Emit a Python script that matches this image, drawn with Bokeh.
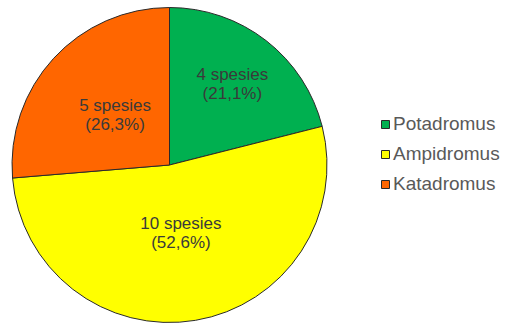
import math
from bokeh.plotting import figure
from bokeh.models import ColumnDataSource, Range1d, Legend, LegendItem
from bokeh.core.properties import value
from bokeh.embed import file_html
from bokeh.resources import INLINE

# Data
categories = ["Potadromus", "Ampidromus", "Katadromus"]
counts = [4, 10, 5]
percent_labels = ["(21,1%)", "(52,6%)", "(26,3%)"]
count_labels = ["4 spesies", "10 spesies", "5 spesies"]
colors = ["#00B050", "#FFFF00", "#FF6600"]

# Layout
W, H = 511, 323
cx, cy, R = 169, 323 - 164.5, 157.5
label_r_frac = [0.65, 0.44, 0.47]

total = sum(counts)
starts, ends, lx, ly1, ly2 = [], [], [], [], []
cum = 0
for c, rf in zip(counts, label_r_frac):
    a0 = math.pi / 2 - 2 * math.pi * cum / total
    cum += c
    a1 = math.pi / 2 - 2 * math.pi * cum / total
    starts.append(a0)
    ends.append(a1)
    mid = (a0 + a1) / 2
    x = cx + rf * R * math.cos(mid)
    y = cy + rf * R * math.sin(mid)
    lx.append(x)
    ly1.append(y + 9.5)
    ly2.append(y - 9.5)

src = ColumnDataSource(dict(cat=categories, start=starts, end=ends, color=colors,
                            lx=lx, ly1=ly1, ly2=ly2, t1=count_labels, t2=percent_labels))

p = figure(width=W, height=H, output_backend="svg", toolbar_location=None,
           x_range=Range1d(0, W), y_range=Range1d(0, H), min_border=0)
p.axis.visible = False
p.grid.visible = False
p.outline_line_color = None
p.background_fill_color = "white"
p.border_fill_color = "white"

r = p.wedge(x=cx, y=cy, radius=R, start_angle="start", end_angle="end",
            direction="clock", fill_color="color", line_color="#2a2a2a",
            line_width=1, source=src)

for col, ycol in (("t1", "ly1"), ("t2", "ly2")):
    p.text(x="lx", y=ycol, text=col, source=src,
           text_align="center", text_baseline="middle",
           text_font=value("Liberation Sans"), text_font_size="17px",
           text_color="#3a3a3a")

items = [LegendItem(label=c, renderers=[r], index=i) for i, c in enumerate(categories)]
legend = Legend(items=items, location=(380, 128), orientation="vertical",
                glyph_width=10, glyph_height=10, label_height=22, spacing=8,
                label_standoff=3, padding=0, margin=0,
                label_text_font="Liberation Sans", label_text_font_size="19px",
                label_text_color="#595959", border_line_color=None,
                background_fill_alpha=0)
p.add_layout(legend, "center")

open("out.html", "w").write(file_html(p, INLINE))
